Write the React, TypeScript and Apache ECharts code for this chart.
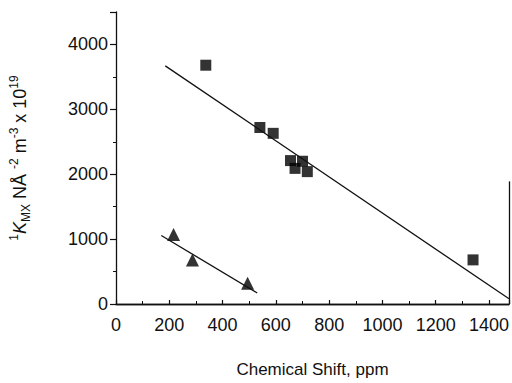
import React, { useEffect, useRef } from "react";
import * as echarts from "echarts";

// Squares (metal series 1)
const squareX = [337, 540, 590, 655, 672, 700, 718, 1340];
const squareY = [3680, 2720, 2630, 2210, 2090, 2200, 2040, 680];
// Triangles (series 2)
const triX = [216, 287, 494];
const triY = [1070, 680, 320];
// Fitted lines
const fitSquareX = [185, 1475];
const fitSquareY = [3670, 80];
const fitTriX = [170, 530];
const fitTriY = [1055, 170];

const X_MAX = 1475;
const Y_MAX = 4500;

const zip = (xs: number[], ys: number[]) => xs.map((x, i) => [x, ys[i]]);

export default function App() {
  const ref = useRef<HTMLDivElement>(null);
  useEffect(() => {
    if (!ref.current) return;
    const chart = echarts.init(ref.current, undefined, { renderer: "svg" });
    const font = "'Liberation Sans', Arial, sans-serif";
    chart.setOption({
      animation: false,
      backgroundColor: "#fff",
      grid: { left: 114, right: 1, top: 12, bottom: 70, containLabel: false },
      xAxis: [
        {
          type: "value",
          min: 0,
          max: X_MAX,
          interval: 200,
          axisLine: { show: true, onZero: false, lineStyle: { color: "#111", width: 1.3 } },
          axisTick: { show: true, inside: true, length: 4, lineStyle: { color: "#111", width: 1.2 } },
          minorTick: { show: true, splitNumber: 2, length: 3, lineStyle: { color: "#111" } },
          splitLine: { show: false },
          axisLabel: {
            color: "#111",
            fontSize: 18,
            fontFamily: font,
            margin: 12,
            formatter: (v: number) => (v % 200 === 0 ? String(v) : ""),
          },
          name: "Chemical Shift, ppm",
          nameLocation: "middle",
          nameGap: 57,
          nameTextStyle: { color: "#111", fontSize: 17, fontFamily: font },
        },
        {
          type: "value",
          position: "top",
          min: 0,
          max: X_MAX,
          axisLine: { show: true, lineStyle: { color: "#111", width: 1.3 } },
          axisTick: { show: false },
          axisLabel: { show: false },
          splitLine: { show: false },
        },
      ],
      yAxis: {
        type: "value",
        min: 0,
        max: Y_MAX,
        interval: 1000,
        axisLine: { show: true, onZero: false, lineStyle: { color: "#111", width: 1.3 } },
        axisTick: { show: true, inside: false, length: 6, lineStyle: { color: "#111", width: 1.2 } },
        minorTick: { show: true, splitNumber: 2, length: 3, lineStyle: { color: "#111" } },
        splitLine: { show: false },
        axisLabel: {
          color: "#111",
          fontSize: 18,
          fontFamily: font,
          margin: 8,
          formatter: (v: number) => (v % 1000 === 0 ? String(v) : ""),
        },
        name: "{sup|1}{it|K}{sub|MX} NÅ {sup|-2} m{sup|-3} x 10{sup|19}",
        nameLocation: "middle",
        nameGap: 84,
        nameTextStyle: {
          color: "#111",
          fontSize: 18,
          fontFamily: font,
          rich: {
            sup: { fontSize: 12, fontFamily: font, color: "#111", verticalAlign: "top", lineHeight: 24 },
            sub: { fontSize: 12, fontFamily: font, color: "#111", verticalAlign: "bottom", lineHeight: 24 },
            it: { fontSize: 18, fontFamily: font, color: "#111", fontStyle: "italic", lineHeight: 24 },
          },
        },
      },
      series: [
        {
          type: "line",
          data: zip(fitSquareX, fitSquareY),
          symbol: "none",
          lineStyle: { color: "#111", width: 1.3 },
          markLine: {
            silent: true,
            symbol: "none",
            label: { show: false },
            lineStyle: { color: "#111", width: 1.3, type: "solid" },
            data: [[{ coord: [X_MAX, 0] }, { coord: [X_MAX, 1890] }]],
          },
        },
        {
          type: "line",
          data: zip(fitTriX, fitTriY),
          symbol: "none",
          lineStyle: { color: "#111", width: 1.3 },
        },
        {
          type: "scatter",
          data: zip(squareX, squareY),
          symbol: "rect",
          symbolSize: 11,
          itemStyle: { color: "#000" },
        },
        {
          type: "scatter",
          data: zip(triX, triY),
          symbol: "triangle",
          symbolSize: 13,
          itemStyle: { color: "#000" },
        },
      ],
    });
    return () => chart.dispose();
  }, []);
  return (
    <div
      ref={ref}
      style={{ position: "absolute", left: 0, top: 0, width: 512, height: 383 }}
    />
  );
}
